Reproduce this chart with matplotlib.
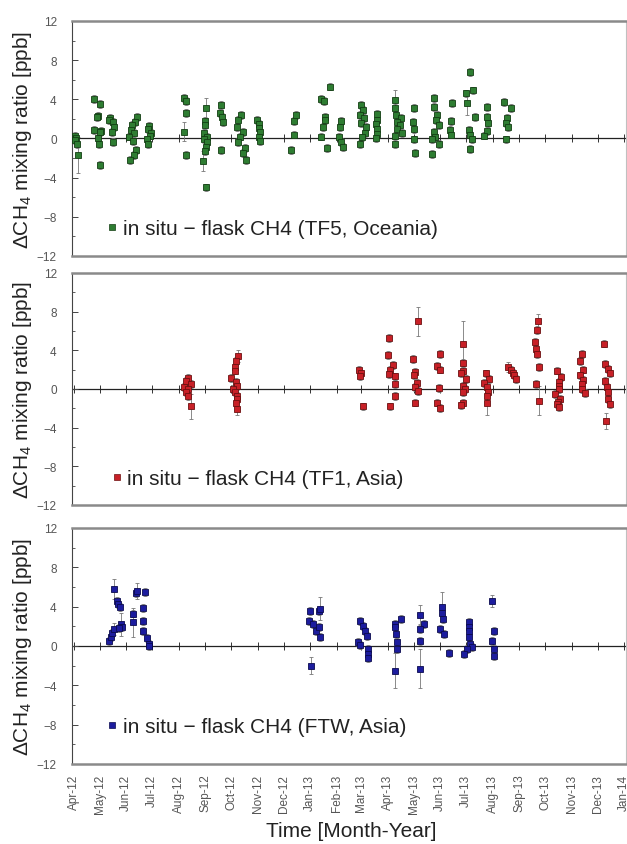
"""
In situ minus flask CH4 differences at three sampling sites (TF5, TF1, FTW)
"""

import pandas as pd
import matplotlib
matplotlib.use('Agg')
import matplotlib.pyplot as plt
import matplotlib.dates as mdates
from matplotlib.lines import Line2D
from matplotlib.ticker import NullFormatter

plt.rcParams['font.family'] = ['Liberation Sans', 'DejaVu Sans']
plt.rcParams['mathtext.fontset'] = 'custom'
plt.rcParams['mathtext.rm'] = 'Liberation Sans'
plt.rcParams['mathtext.it'] = 'Liberation Sans:italic'

# ---- TF5, Oceania (green) ----
tf5_dates = [
    '2012-04-02', '2012-04-04', '2012-04-03', '2012-04-05', '2012-04-06',
    '2012-04-25', '2012-05-01', '2012-04-29', '2012-04-28', '2012-04-25', '2012-05-03', '2012-05-01', '2012-04-29', '2012-04-30', '2012-05-01',
    '2012-05-13', '2012-05-12', '2012-05-17', '2012-05-18', '2012-05-16', '2012-05-17',
    '2012-06-14', '2012-06-11', '2012-06-08', '2012-06-07', '2012-06-10', '2012-06-04', '2012-06-09', '2012-06-12', '2012-06-10', '2012-06-06',
    '2012-06-27', '2012-06-26', '2012-06-30', '2012-06-29', '2012-06-25', '2012-06-26',
    '2012-08-07', '2012-08-09', '2012-08-09', '2012-08-07', '2012-08-09',
    '2012-09-02', '2012-09-01', '2012-09-01', '2012-08-30', '2012-09-03', '2012-08-30', '2012-09-03', '2012-09-02', '2012-09-01', '2012-08-29', '2012-09-02',
    '2012-09-19', '2012-09-18', '2012-09-20', '2012-09-22', '2012-09-19',
    '2012-10-13', '2012-10-09', '2012-10-08', '2012-10-15', '2012-10-11', '2012-10-09', '2012-10-17', '2012-10-15', '2012-10-18',
    '2012-10-31', '2012-11-02', '2012-11-02', '2012-11-04', '2012-11-02', '2012-11-03',
    '2012-12-15', '2012-12-13', '2012-12-13', '2012-12-10',
    '2013-01-24', '2013-01-14', '2013-01-17', '2013-01-18', '2013-01-18', '2013-01-16', '2013-01-14', '2013-01-21',
    '2013-02-06', '2013-02-04', '2013-02-03', '2013-02-06', '2013-02-08',
    '2013-03-01', '2013-03-03', '2013-02-28', '2013-03-04', '2013-03-01', '2013-03-07', '2013-03-06', '2013-03-02', '2013-02-28',
    '2013-03-19', '2013-03-20', '2013-03-18', '2013-03-20', '2013-03-19', '2013-03-18',
    '2013-04-09', '2013-04-10', '2013-04-11', '2013-04-16', '2013-04-12', '2013-04-15', '2013-04-12', '2013-04-18', '2013-04-10', '2013-04-10',
    '2013-05-02', '2013-04-30', '2013-05-02', '2013-05-02', '2013-05-03',
    '2013-05-25', '2013-05-25', '2013-05-28', '2013-05-27', '2013-05-31', '2013-05-25', '2013-05-26', '2013-05-22', '2013-05-31', '2013-05-22',
    '2013-06-15', '2013-06-13', '2013-06-12', '2013-06-13',
    '2013-07-06', '2013-07-09', '2013-07-01', '2013-07-02', '2013-07-11', '2013-07-04', '2013-07-06', '2013-07-08', '2013-07-06',
    '2013-07-25', '2013-07-25', '2013-07-27', '2013-07-26', '2013-07-22',
    '2013-08-14', '2013-08-22', '2013-08-18', '2013-08-17', '2013-08-19', '2013-08-16',
]
tf5_vals = [
    0.3, 0.0, -0.2, -0.6, -1.7,
    4.0, 3.5, 2.3, 2.2, 0.9, 0.8, 0.7, 0.0, -0.6, -2.7,
    2.1, 1.9, 1.7, 1.2, 0.7, -0.4,
    2.2, 1.7, 1.4, 0.9, 0.6, 0.2, -0.3, -1.2, -1.7, -2.2,
    1.3, 1.0, 0.6, 0.3, -0.1, -0.6,
    4.1, 3.8, 2.6, 0.7, -1.7,
    3.1, 1.8, 1.4, 0.6, 0.2, -0.1, -0.4, -0.9, -1.3, -2.3, -5.0,
    3.4, 2.6, 2.2, 1.7, -1.2,
    2.4, 1.9, 1.2, 0.7, 0.2, -0.4, -1.0, -1.5, -2.2,
    1.9, 1.5, 1.1, 0.7, 0.2, -0.3,
    2.4, 1.8, 0.4, -1.2,
    5.3, 4.0, 3.8, 2.2, 1.9, 1.2, 0.2, -1.0,
    1.8, 1.2, 0.2, -0.4, -0.9,
    3.4, 2.9, 2.4, 2.1, 1.6, 1.2, 0.6, 0.1, -0.6,
    2.5, 1.9, 1.5, 1.0, 0.5, 0.0,
    3.9, 3.1, 2.4, 2.1, 1.7, 1.4, 1.0, 0.6, 0.3, -0.6,
    3.1, 1.7, 1.0, -0.1, -1.5,
    4.1, 3.2, 2.4, 1.9, 1.4, 0.7, 0.2, -0.1, -0.6, -1.6,
    3.6, 1.8, 0.9, 0.4,
    6.8, 4.9, 4.6, 3.6, 2.2, 0.9, 0.4, -0.1, -1.1,
    3.2, 2.2, 1.6, 0.8, 0.3,
    3.7, 3.1, 2.1, 1.6, 1.2, -0.1,
]
tf5_errs = [
    0.4, 0.4, 0.4, 0.4, 1.8,
    0.4, 0.4, 0.4, 0.4, 0.4, 0.4, 0.4, 0.4, 0.4, 0.4,
    0.4, 0.4, 0.4, 0.4, 0.4, 0.4,
    0.4, 0.4, 0.4, 0.4, 0.4, 0.4, 0.4, 0.4, 0.4, 0.4,
    0.4, 0.4, 0.4, 0.4, 0.4, 0.4,
    0.4, 0.4, 0.4, 1.0, 0.4,
    1.0, 0.4, 0.4, 0.4, 0.4, 0.4, 0.4, 0.4, 0.4, 1.0, 0.4,
    0.4, 0.4, 0.4, 0.4, 0.4,
    0.4, 0.4, 0.4, 0.4, 0.4, 0.4, 0.4, 0.4, 0.4,
    0.4, 0.4, 0.4, 0.4, 0.4, 0.4,
    0.4, 0.4, 0.4, 0.4,
    0.4, 0.4, 0.4, 0.4, 0.4, 0.4, 0.4, 0.4,
    0.4, 0.4, 0.4, 0.4, 0.4,
    0.4, 0.4, 0.4, 0.4, 0.4, 0.4, 0.4, 0.4, 0.4,
    0.4, 0.4, 0.4, 0.4, 0.4, 0.4,
    1.0, 0.4, 0.4, 0.4, 0.4, 0.4, 0.4, 0.4, 0.4, 0.4,
    0.4, 0.4, 0.4, 0.4, 0.4,
    0.4, 0.4, 0.4, 0.4, 0.4, 0.4, 0.4, 0.4, 0.4, 0.4,
    0.4, 0.4, 0.4, 0.4,
    0.4, 0.4, 0.4, 1.2, 0.4, 0.4, 0.4, 0.4, 0.4,
    0.4, 0.4, 0.4, 0.4, 0.4,
    0.4, 0.4, 0.4, 0.4, 0.4, 0.4,
]

# ---- TF1, Asia (red) ----
tf1_dates = [
    '2012-08-12', '2012-08-09', '2012-08-15', '2012-08-07', '2012-08-12', '2012-08-10', '2012-08-12', '2012-08-15',
    '2012-10-09', '2012-10-07', '2012-10-06', '2012-10-06', '2012-10-01', '2012-10-07', '2012-10-08', '2012-10-03', '2012-10-05', '2012-10-08', '2012-10-08', '2012-10-07', '2012-10-08',
    '2013-02-27', '2013-03-01', '2013-02-28', '2013-03-03',
    '2013-04-03', '2013-04-01', '2013-04-07', '2013-04-04', '2013-04-03', '2013-04-09', '2013-04-09', '2013-04-09', '2013-04-04',
    '2013-05-06', '2013-04-30', '2013-05-03', '2013-05-02', '2013-05-05', '2013-05-03', '2013-05-06', '2013-05-03',
    '2013-06-01', '2013-05-28', '2013-06-01', '2013-05-31', '2013-05-28', '2013-06-01',
    '2013-06-27', '2013-06-27', '2013-06-28', '2013-06-25', '2013-07-01', '2013-06-27', '2013-06-30', '2013-06-28', '2013-06-28', '2013-06-25',
    '2013-07-24', '2013-07-28', '2013-07-22', '2013-07-26', '2013-07-27', '2013-07-26', '2013-07-25',
    '2013-08-19', '2013-08-22', '2013-08-25', '2013-08-26', '2013-08-28',
    '2013-09-23', '2013-09-21', '2013-09-19', '2013-09-20', '2013-09-21', '2013-09-24', '2013-09-20', '2013-09-24',
    '2013-10-15', '2013-10-19', '2013-10-17', '2013-10-17', '2013-10-17', '2013-10-13', '2013-10-18', '2013-10-16', '2013-10-15', '2013-10-17',
    '2013-11-13', '2013-11-11', '2013-11-14', '2013-11-11', '2013-11-14', '2013-11-13', '2013-11-13', '2013-11-16',
    '2013-12-09', '2013-12-10', '2013-12-13', '2013-12-15', '2013-12-10', '2013-12-12', '2013-12-13', '2013-12-13', '2013-12-15', '2013-12-11',
]
tf1_vals = [
    1.1, 0.8, 0.5, 0.2, 0.0, -0.3, -0.7, -1.8,
    3.4, 2.9, 2.3, 1.9, 1.1, 0.7, 0.3, 0.0, -0.3, -0.7, -1.0, -1.4, -2.1,
    2.0, 1.6, 1.3, -1.8,
    5.3, 3.5, 2.5, 2.0, 1.5, 1.3, 0.5, -0.7, -1.8,
    7.0, 3.1, 1.8, 1.4, 0.6, 0.2, -0.2, -1.4,
    3.6, 2.4, 2.0, 0.1, -1.4, -2.0,
    4.7, 2.7, 1.9, 1.6, 1.0, 0.3, 0.0, -0.3, -1.4, -1.7,
    1.6, 1.0, 0.6, 0.2, -0.3, -0.7, -1.5,
    2.3, 2.0, 1.7, 1.4, 1.0,
    7.0, 6.1, 4.9, 4.1, 3.6, 2.3, 0.5, -1.2,
    1.9, 1.2, 0.7, 0.3, 0.0, -0.5, -1.0, -1.3, -1.6, -1.9,
    3.6, 2.9, 2.0, 1.4, 0.9, 0.5, 0.0, -0.4,
    4.7, 2.6, 2.1, 1.6, 0.8, 0.2, -0.3, -1.0, -1.6, -3.3,
]
tf1_errs = [
    0.4, 0.4, 0.4, 0.4, 0.4, 0.4, 0.4, 1.3,
    0.6, 0.4, 0.4, 0.4, 0.4, 0.4, 0.4, 0.4, 0.4, 0.4, 0.4, 0.4, 0.6,
    0.4, 0.4, 0.4, 0.4,
    0.4, 0.4, 0.4, 0.4, 0.4, 0.4, 0.4, 0.4, 0.4,
    1.5, 0.4, 0.4, 0.4, 0.4, 0.4, 0.4, 0.4,
    0.4, 0.4, 0.4, 0.4, 0.4, 0.4,
    2.3, 0.4, 0.4, 0.4, 0.4, 0.4, 0.4, 0.4, 0.4, 0.4,
    0.4, 0.4, 0.4, 0.4, 0.4, 0.4, 1.2,
    0.5, 0.4, 0.4, 0.4, 0.4,
    0.8, 0.4, 0.4, 0.4, 0.4, 0.4, 0.4, 1.5,
    0.4, 0.4, 0.4, 0.4, 0.4, 0.4, 0.4, 0.4, 0.4, 0.4,
    0.4, 0.4, 0.4, 0.4, 0.4, 0.4, 0.4, 0.4,
    0.4, 0.4, 0.4, 0.4, 0.4, 0.4, 0.4, 0.4, 0.4, 0.8,
]

# ---- FTW, Asia (blue) ----
ftw_dates = [
    '2012-05-12', '2012-05-14', '2012-05-16', '2012-05-18', '2012-05-18', '2012-05-21', '2012-05-23', '2012-05-25', '2012-05-26', '2012-05-27', '2012-05-24',
    '2012-06-09', '2012-06-09', '2012-06-12', '2012-06-13', '2012-06-23', '2012-06-21', '2012-06-21', '2012-06-20', '2012-06-25', '2012-06-27', '2012-06-27',
    '2013-01-01', '2012-12-31', '2013-01-04', '2013-01-08', '2013-01-11', '2013-01-12', '2013-01-11', '2013-01-12', '2013-01-02',
    '2013-02-28', '2013-03-03', '2013-03-06', '2013-03-08', '2013-02-25', '2013-02-28', '2013-03-09', '2013-03-09', '2013-03-09',
    '2013-04-16', '2013-04-10', '2013-04-09', '2013-04-11', '2013-04-12', '2013-04-12', '2013-04-10',
    '2013-05-09', '2013-05-13', '2013-05-09', '2013-05-09', '2013-05-08',
    '2013-06-03', '2013-06-03', '2013-06-04', '2013-06-01', '2013-06-05', '2013-06-11',
    '2013-07-04', '2013-07-04', '2013-07-04', '2013-07-04', '2013-07-06', '2013-07-08', '2013-07-02', '2013-06-29',
    '2013-07-31', '2013-08-02', '2013-07-31', '2013-08-03', '2013-08-02',
]
ftw_vals = [
    0.5, 0.9, 1.3, 1.7, 5.8, 4.6, 4.3, 4.0, 2.2, 1.9, 1.8,
    3.3, 2.4, 5.4, 5.6, 5.5, 3.9, 2.5, 1.5, 0.8, 0.2, 0.0,
    3.6, 2.5, 2.2, 1.5, 3.6, 3.8, 1.9, 0.9, -2.0,
    2.5, 2.0, 1.5, 1.0, 0.4, 0.1, -0.3, -0.8, -1.2,
    2.7, 2.2, 1.9, 1.2, 0.4, -0.3, -2.5,
    3.2, 2.2, 1.7, 0.5, -2.3,
    4.0, 3.4, 2.7, 1.7, 1.2, -0.7,
    2.4, 1.9, 1.5, 0.9, 0.2, -0.1, -0.3, -0.8,
    4.6, 1.5, 0.5, -0.3, -1.0,
]
ftw_errs = [
    0.4, 0.4, 0.4, 0.6, 1.0, 0.4, 0.4, 0.4, 1.2, 0.4, 0.4,
    0.4, 1.5, 0.4, 0.8, 0.4, 0.4, 0.4, 0.4, 0.4, 0.4, 0.4,
    0.4, 0.4, 0.4, 0.4, 0.4, 1.2, 0.4, 0.4, 0.9,
    0.4, 0.4, 0.4, 0.4, 0.4, 0.4, 0.4, 0.4, 0.4,
    0.4, 0.4, 0.4, 0.4, 0.4, 0.4, 1.8,
    1.0, 0.4, 0.4, 0.4, 2.0,
    1.5, 0.4, 0.4, 0.4, 0.4, 0.4,
    0.4, 0.4, 0.4, 0.4, 0.4, 0.4, 0.4, 0.4,
    0.6, 0.4, 0.4, 0.4, 0.4,
]

panels = [
    (tf5_dates, tf5_vals, tf5_errs, '#2e7d32', '#123d12', 'in situ \u2212 flask CH4 (TF5, Oceania)', 0.063, 0.115),
    (tf1_dates, tf1_vals, tf1_errs, '#c82027', '#6b1010', 'in situ \u2212 flask CH4 (TF1, Asia)', 0.072, 0.112),
    (ftw_dates, ftw_vals, ftw_errs, '#1c1c9e', '#0a0a4e', 'in situ \u2212 flask CH4 (FTW, Asia)', 0.063, 0.157),
]

# axes boxes in figure fractions (left, bottom, width, height)
boxes = [
    (0.1148, 0.6959, 0.8836, 0.2781),
    (0.1148, 0.4012, 0.8836, 0.2746),
    (0.1148, 0.0947, 0.8836, 0.2793),
]

x_min = pd.Timestamp('2012-03-30')
x_max = pd.Timestamp('2014-01-03')

fig = plt.figure(figsize=(6.27, 8.45), dpi=100)

for i, (dates, vals, errs, fc, ec, label, lx, ly) in enumerate(panels):
    ax = fig.add_axes(boxes[i])
    ax.axhline(0, color='#222222', lw=0.9, zorder=1)
    ax.errorbar(pd.to_datetime(dates), vals, yerr=errs, fmt='s', ms=4.8,
                mfc=fc, mec=ec, mew=0.6, ecolor='#777777', elinewidth=0.6,
                capsize=1.5, capthick=0.6, zorder=3)

    ax.set_xlim(x_min, x_max)
    ax.set_ylim(-12, 12)
    ax.set_yticks([-12, -8, -4, 0, 4, 8, 12])
    ax.set_yticks(range(-10, 12, 4), minor=True)
    ax.tick_params(axis='y', which='major', direction='in', length=4, width=0.7,
                   color='#444444', labelsize=8.5, labelcolor='#555555', pad=11)
    ax.tick_params(axis='y', which='minor', direction='in', length=2.5, width=0.6, color='#444444')

    # month ticks on the zero line
    zero_ax = ax.secondary_xaxis(0.5)
    zero_ax.xaxis.set_major_locator(mdates.MonthLocator())
    zero_ax.xaxis.set_major_formatter(NullFormatter())
    zero_ax.tick_params(axis='x', direction='inout', length=6, width=0.7,
                        color='#333333', labeltop=False, labelbottom=False)
    for sp in zero_ax.spines.values():
        sp.set_visible(False)

    ax.xaxis.set_major_locator(mdates.MonthLocator())
    ax.xaxis.set_major_formatter(mdates.DateFormatter('%b-%y'))
    if i == 2:
        ax.tick_params(axis='x', length=0, labelsize=8.5, labelcolor='#555555',
                       labelrotation=90, pad=7)
    else:
        ax.tick_params(axis='x', length=0, labelbottom=False)

    for side in ('top', 'bottom'):
        ax.spines[side].set_color('#8a8a8a')
        ax.spines[side].set_linewidth(1.8)
    ax.spines['left'].set_color('#444444')
    ax.spines['left'].set_linewidth(0.8)
    ax.spines['right'].set_color('#c0c0c0')
    ax.spines['right'].set_linewidth(0.8)

    ax.set_ylabel('\u0394CH$_4$ mixing ratio [ppb]', fontsize=15, color='#222222')
    ax.yaxis.set_label_coords(-0.069, 0.5)

    handle = Line2D([], [], marker='s', ls='', ms=4.2, mfc=fc, mec=ec, mew=0.5)
    ax.legend(handles=[handle], labels=[label], loc='center left',
              bbox_to_anchor=(lx, ly), frameon=False, fontsize=15,
              handlelength=0.5, handletextpad=0.25, borderpad=0, borderaxespad=0,
              labelcolor='#222222')

fig.text(0.561, 0.0154, 'Time [Month-Year]', fontsize=15, color='#222222',
         ha='center', va='center')

fig.savefig('out.png', dpi=100)
